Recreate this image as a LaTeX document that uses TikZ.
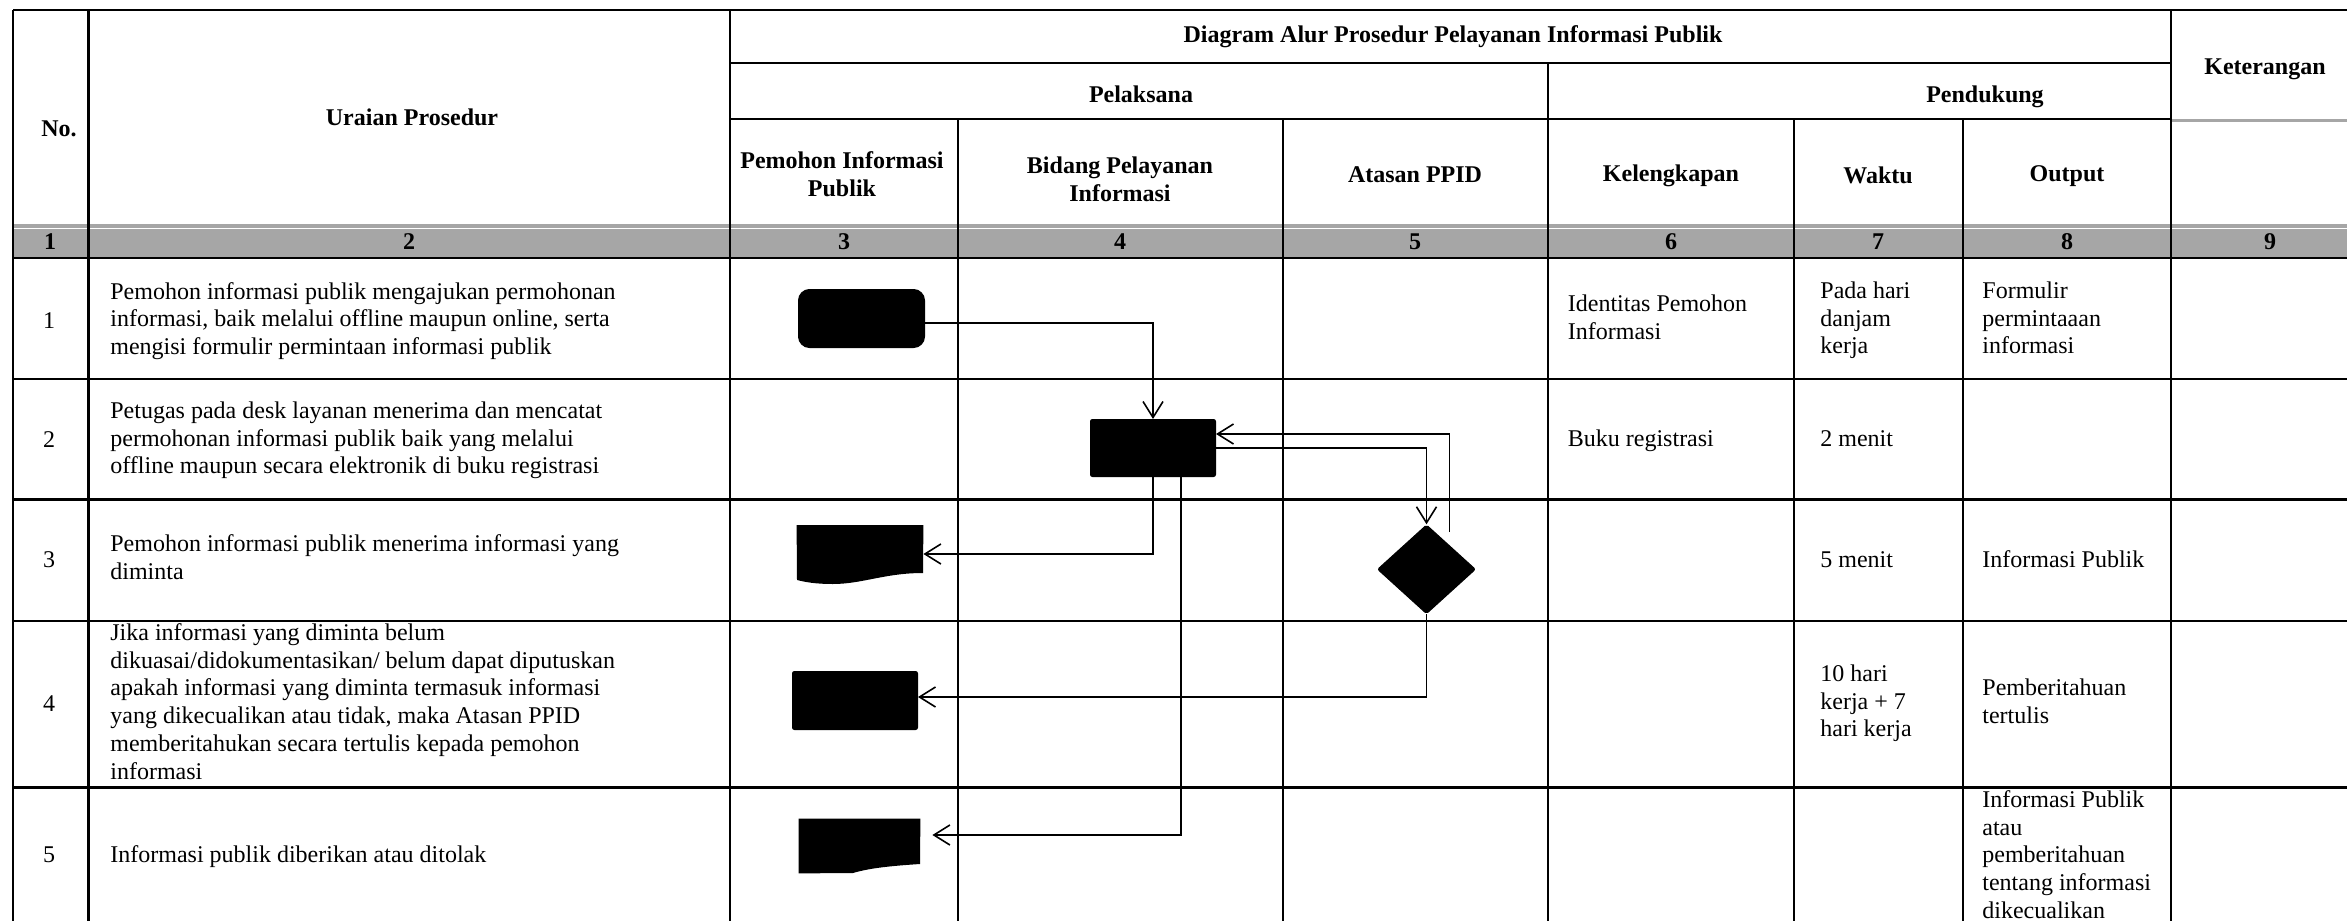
\documentclass[tikz,border=0pt]{standalone}
\usepackage{fontspec}
\setmainfont{Liberation Serif}
\usetikzlibrary{arrows.meta,shapes.geometric,calc}
\definecolor{bandgray}{HTML}{A6A6A6}
\begin{document}
\begin{tikzpicture}[x=0.5pt,y=-0.5pt,
  tl/.style={line width=1.2pt},
  con/.style={line width=0.8pt},
  arr/.style={con,-{Straight Barb[length=8pt,width=10pt]}},
  bt/.style={font=\fontsize{12}{13.85}\selectfont},
  hd/.style={font=\bfseries\fontsize{12}{13.85}\selectfont, align=center, inner sep=0pt},
  tx/.style={bt, anchor=west, align=left, inner sep=0pt, execute at begin node=\strut, execute at end node=\strut},
  num/.style={bt, inner sep=0pt, execute at begin node=\strut},
  blk/.style={fill=black, draw=black, line width=0.5pt, inner sep=0pt}
]
\useasboundingbox (0,0) rectangle (2347,921);
% gray number band
\fill[bandgray] (13,224) rectangle (2347,257.5);
\draw[white, line width=0.6pt] (13,228.5) -- (2347,228.5);
% horizontal table lines
\draw[tl] (13,10) -- (2347,10);
\draw[tl] (730,63) -- (2171,63);
\draw[tl] (730,119) -- (2171,119);
\draw[bandgray, line width=1.5pt] (2171,120.5) -- (2347,120.5);
\foreach \yy in {258,379,499.5,621,787.5}{\draw[tl] (13,\yy) -- (2347,\yy);}
% vertical table lines
\foreach \xx in {13,88.5,730,2171}{\draw[tl] (\xx,10) -- (\xx,921);}
\draw[tl] (1548,63) -- (1548,921);
\foreach \xx in {958,1283,1794,1963}{\draw[tl] (\xx,119) -- (\xx,921);}
% header texts
\node[hd] (hNo) at (59,129) {No.};
\node[hd] (hUr) at (412,117) {Uraian Prosedur};
\node[hd] (hDA) at (1453,37) {Diagram Alur Prosedur Pelayanan Informasi Publik};
\node[hd] (hPel) at (1141,94) {Pelaksana};
\node[hd] (hPen) at (1985,97) {Pendukung};
\node[hd] (hKet) at (2265,69) {Keterangan};
\node[hd] (hPem) at (842,174) {Pemohon Informasi\\Publik};
\node[hd] (hBid) at (1120,179) {Bidang Pelayanan\\Informasi};
\node[hd] (hAta) at (1415,175) {Atasan PPID};
\node[hd] (hKel) at (1671,176) {Kelengkapan};
\node[hd] (hWak) at (1878,175) {Waktu};
\node[hd] (hOut) at (2067,176) {Output};
% number band
\node[hd] (n1) at (50,242) {1};
\node[hd] (n2) at (409,242) {2};
\node[hd] (n3) at (844,242) {3};
\node[hd] (n4) at (1120,242) {4};
\node[hd] (n5) at (1415,242) {5};
\node[hd] (n6) at (1671,242) {6};
\node[hd] (n7) at (1878,242) {7};
\node[hd] (n8) at (2067,242) {8};
\node[hd] (n9) at (2270,242) {9};
% row numbers
\node[num] (r1) at (49,322.5) {1};
\node[num] (r2) at (49,442) {2};
\node[num] (r3) at (49,562) {3};
\node[num] (r4) at (49,706) {4};
\node[num] (r5) at (49,857) {5};
% uraian
\node[tx] (u1) at (110,322.5) {Pemohon informasi publik mengajukan permohonan\\informasi, baik melalui offline maupun online, serta\\mengisi formulir permintaan informasi publik};
\node[tx] (u2) at (110,442) {Petugas pada desk layanan menerima dan mencatat\\permohonan informasi publik baik yang melalui\\offline maupun secara elektronik di buku registrasi};
\node[tx] (u3) at (110,561) {Pemohon informasi publik menerima informasi yang\\diminta};
\node[tx] (u4) at (110,705.5) {Jika informasi yang diminta belum\\dikuasai/didokumentasikan/ belum dapat diputuskan\\apakah informasi yang diminta termasuk informasi\\yang dikecualikan atau tidak, maka Atasan PPID\\memberitahukan secara tertulis kepada pemohon\\informasi};
\node[tx] (u5) at (110,857) {Informasi publik diberikan atau ditolak};
% pendukung
\node[tx] (k1) at (1567.5,321) {Identitas Pemohon\\Informasi};
\node[tx] (k2) at (1567.5,441) {Buku registrasi};
\node[tx] (w1) at (1820,322) {Pada hari\\danjam\\kerja};
\node[tx] (w2) at (1820,441) {2 menit};
\node[tx] (w3) at (1820,562) {5 menit};
\node[tx] (w4) at (1820,705) {10 hari\\kerja + 7\\hari kerja};
\node[tx] (o1) at (1982,322) {Formulir\\permintaaan\\informasi};
\node[tx] (o3) at (1982,562) {Informasi Publik};
\node[tx] (o4) at (1982,705) {Pemberitahuan\\tertulis};
\node[tx] (o5) at (1982,858.5) {Informasi Publik\\atau\\pemberitahuan\\tentang informasi\\dikecualikan};
% flow shapes
\node[blk, rounded corners=5.5pt, minimum width=63pt, minimum height=29pt] (term) at (861.5,318.5) {};
\node[blk, rounded corners=1pt, minimum width=62.5pt, minimum height=28.5pt] (proc) at (1153,448) {};
\node[blk, diamond, rounded corners=1pt, minimum width=49pt, minimum height=44.5pt] (dia) at (1426.5,569.3) {};
\node[blk, rounded corners=1pt, minimum width=62.5pt, minimum height=29pt] (rect4) at (855,700.5) {};
\node[inner sep=0pt, minimum width=63pt, minimum height=28.5pt] (doc1) at (860,554) {};
\fill (doc1.north west) -- (doc1.north east) -- (923,573) .. controls (885,573) and (862,584) .. (833,584) .. controls (815,584) and (805,582) .. (797,580) -- cycle;
\node[inner sep=0pt, minimum width=60.5pt, minimum height=27pt] (doc2) at (859.5,846) {};
\fill (doc2.north west) -- (doc2.north east) -- (920,864) .. controls (890,866) and (870,868) .. (853,873) -- (doc2.south west) -- cycle;
% connectors
\coordinate (ret) at (1449.5,532);
\draw[arr] ([yshift=-2.25pt]term.east) -| (proc.north);
\draw[arr] (ret) |- ([yshift=7pt]proc.east);
\draw[arr] (proc.east) -| (dia.north);
\draw[arr] (proc.south) |- (doc1.east);
\draw[arr] ([xshift=14pt]proc.south) |- ([xshift=6pt,yshift=5.5pt]doc2.east);
\draw[arr] (dia.south) |- ([yshift=1.75pt]rect4.east);
\end{tikzpicture}
\end{document}
